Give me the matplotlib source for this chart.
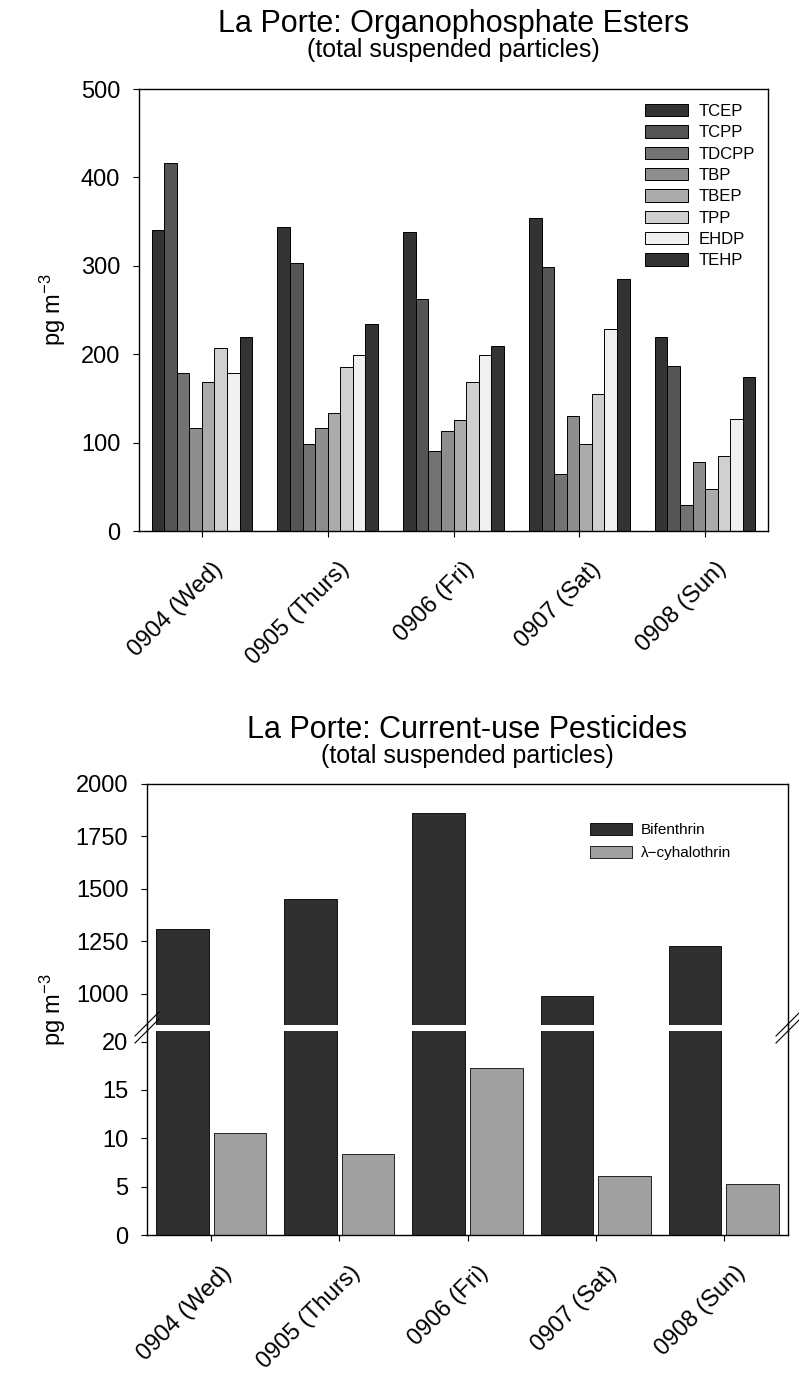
import numpy as np
import matplotlib
matplotlib.use('Agg')
import matplotlib.pyplot as plt
from matplotlib.lines import Line2D
from matplotlib.transforms import ScaledTranslation

plt.rcParams['font.family'] = ['Liberation Sans', 'DejaVu Sans']
plt.rcParams['mathtext.fontset'] = 'custom'
plt.rcParams['mathtext.rm'] = 'Liberation Sans'
plt.rcParams['mathtext.default'] = 'rm'

days = ['0904 (Wed)', '0905 (Thurs)', '0906 (Fri)', '0907 (Sat)', '0908 (Sun)']

# organophosphate esters (pg m-3), one value per day
ope_names = ['TCEP', 'TCPP', 'TDCPP', 'TBP', 'TBEP', 'TPP', 'EHDP', 'TEHP']
TCEP = [341, 344, 338, 354, 220]
TCPP = [416, 303, 263, 299, 187]
TDCPP = [179, 98, 91, 65, 29]
TBP = [116, 116, 113, 130, 78]
TBEP = [168, 134, 126, 98, 48]
TPP = [207, 185, 169, 155, 85]
EHDP = [179, 199, 199, 229, 127]
TEHP = [219, 234, 209, 285, 174]
ope_values = [TCEP, TCPP, TDCPP, TBP, TBEP, TPP, EHDP, TEHP]
ope_colors = ['#333333', '#555555', '#737373', '#8e8e8e', '#ababab',
              '#d0d0d0', '#f0f0f0', '#333333']

# current-use pesticides (pg m-3)
bifenthrin = [1310, 1453, 1864, 990, 1228]
cyhalothrin = [10.6, 8.4, 17.3, 6.1, 5.3]

W, H = 799, 1380
fig = plt.figure(figsize=(W / 100, H / 100), dpi=100)


def px_box(l, t, r, b):
    return [l / W, 1 - b / H, (r - l) / W, (b - t) / H]


def style(ax):
    for s in ax.spines.values():
        s.set_linewidth(1.0)
    ax.tick_params(direction='out', length=4.5, width=0.8, labelsize=17, pad=9)


def day_labels(ax, x):
    ax.set_xticks(x)
    ax.set_xticklabels([])
    off = ScaledTranslation(10 / 100, -27 / 100, fig.dpi_scale_trans)
    for xi, lab in zip(x, days):
        ax.text(xi, 0, lab, transform=ax.get_xaxis_transform() + off,
                rotation=45, rotation_mode='anchor', ha='right', va='top',
                fontsize=17)


def fig_line(x0, y0, x1, y1, lw=0.8):
    fig.add_artist(Line2D([x0 / W, x1 / W], [1 - y0 / H, 1 - y1 / H],
                          transform=fig.transFigure, color='k', lw=lw))


x = np.arange(len(days))

#------------------------------------ Organophosphate esters ---------------------------------
ax1 = fig.add_axes(px_box(139, 89, 768, 531))
style(ax1)
width = 0.1
for i, (name, vals, c) in enumerate(zip(ope_names, ope_values, ope_colors)):
    ax1.bar(x + (i - 3.5) * width, vals, width, color=c, edgecolor='black',
            linewidth=0.7, label=name)
ax1.set_xlim(-0.5, 4.5)
ax1.set_ylim(0, 500)
ax1.set_yticks(np.arange(0, 501, 100))
day_labels(ax1, x)
ax1.legend(loc='upper left', bbox_to_anchor=(645 / W, 1 - 104 / H),
           bbox_transform=fig.transFigure, frameon=False, fontsize=12,
           handlelength=2.6, handleheight=0.75, handletextpad=0.6,
           labelspacing=0.38, borderpad=0, borderaxespad=0)

fig.text(453.5 / W, 1 - 32 / H, 'La Porte: Organophosphate Esters',
         ha='center', va='baseline', fontsize=22)
fig.text(453.5 / W, 1 - 57 / H, '(total suspended particles)',
         ha='center', va='baseline', fontsize=18)
fig.text(53 / W, 1 - 310 / H, 'pg m$^{-3}$', rotation=90, ha='center',
         va='center', fontsize=17)

#------------------------------------ Pesticides, broken axis --------------------------------
ax_hi = fig.add_axes(px_box(147, 784, 788, 1025))
ax_lo = fig.add_axes(px_box(147, 1031, 788, 1235))
for ax in (ax_hi, ax_lo):
    style(ax)
    ax.set_xlim(-0.5, 4.5)

bw = 0.41
b1 = ax_hi.bar(x - 0.225, bifenthrin, bw, color='#303030', edgecolor='#111111',
               linewidth=0.7, label='Bifenthrin')
ax_lo.bar(x - 0.225, bifenthrin, bw, color='#303030', edgecolor='#111111',
          linewidth=0.7)
b2 = ax_lo.bar(x + 0.225, cyhalothrin, bw, color='#a0a0a0', edgecolor='#222222',
               linewidth=0.7, label='\u03bb\u2212cyhalothrin')

ax_hi.set_ylim(852, 2000)
ax_hi.set_yticks(np.arange(1000, 2001, 250))
ax_hi.spines['bottom'].set_visible(False)
ax_hi.tick_params(axis='x', bottom=False, labelbottom=False)

ax_lo.set_ylim(0, 21.1)
ax_lo.set_yticks(np.arange(0, 21, 5))
ax_lo.spines['top'].set_visible(False)
day_labels(ax_lo, x)

ax_hi.legend(handles=[b1, b2], loc='upper left',
             bbox_to_anchor=(590 / W, 1 - 823 / H), bbox_transform=fig.transFigure,
             frameon=False, fontsize=11, handlelength=2.75, handleheight=0.85,
             handletextpad=0.6, labelspacing=0.55, borderpad=0, borderaxespad=0)

# spine through the gap and the // break marks
for xs in (147, 788):
    fig_line(xs, 1025, xs, 1031, lw=1.0)
    for yc in (1024, 1031):
        fig_line(xs - 12, yc + 12, xs + 12, yc - 12)

fig.text(467.5 / W, 1 - 738 / H, 'La Porte: Current-use Pesticides',
         ha='center', va='baseline', fontsize=22)
fig.text(467.5 / W, 1 - 763 / H, '(total suspended particles)',
         ha='center', va='baseline', fontsize=18)
fig.text(53 / W, 1 - 1010 / H, 'pg m$^{-3}$', rotation=90, ha='center',
         va='center', fontsize=17)

fig.savefig('out.png', dpi=100)
